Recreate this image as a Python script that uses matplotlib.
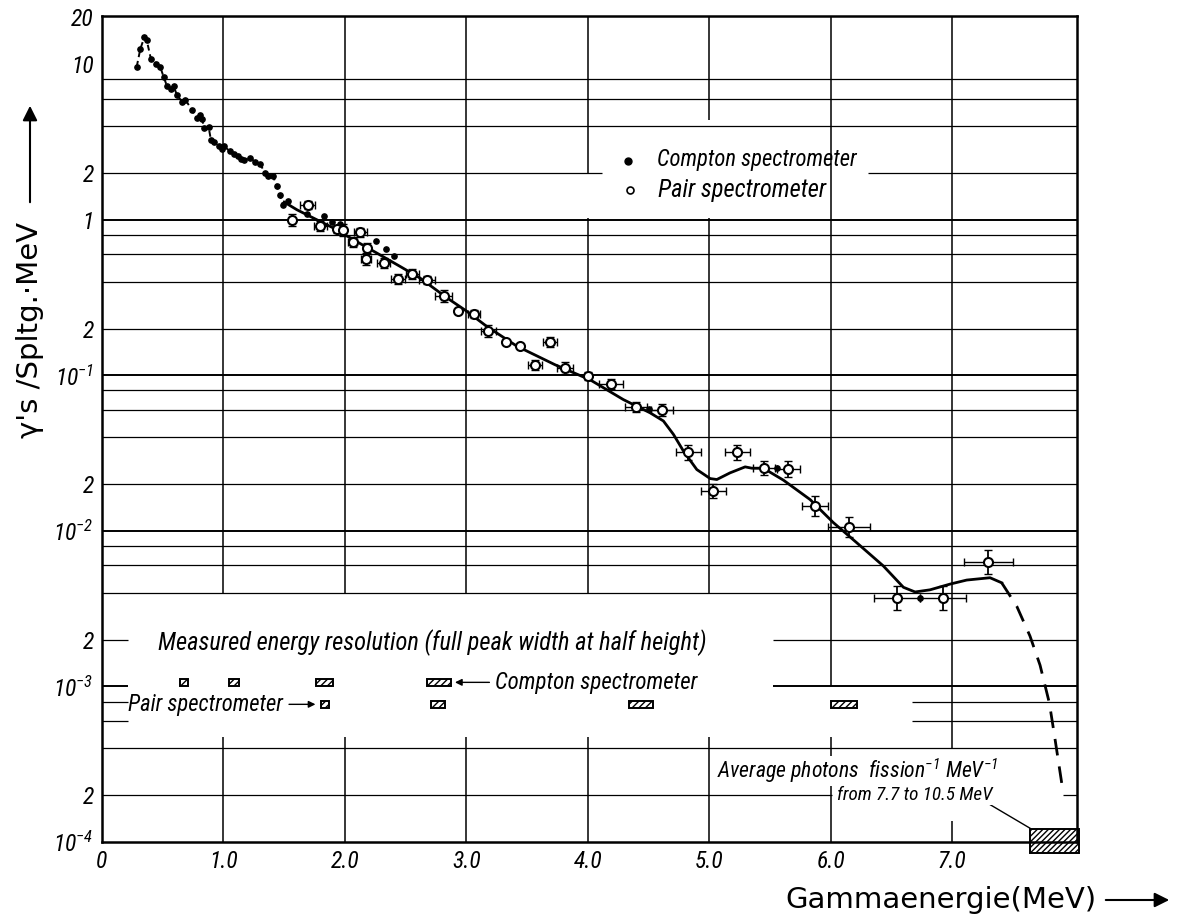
import matplotlib
matplotlib.use('Agg')
import matplotlib.pyplot as plt
import numpy as np
from matplotlib import font_manager
from matplotlib.patches import Rectangle, FancyArrowPatch

names = {f.name for f in font_manager.fontManager.ttflist}
NARROW = 'DejaVu Sans'
for cand in ['Liberation Sans Narrow', 'Roboto Condensed', 'Open Sans Condensed', 'Liberation Sans']:
    if cand in names:
        NARROW = cand
        break
plt.rcParams['mathtext.fontset'] = 'custom'
plt.rcParams['mathtext.rm'] = NARROW + ':italic'
plt.rcParams['mathtext.it'] = NARROW + ':italic'
plt.rcParams['mathtext.sf'] = NARROW + ':italic'
plt.rcParams['hatch.linewidth'] = 1.0

# ---------------- data ----------------
compton_e = [0.286, 0.315, 0.348, 0.368, 0.403, 0.447, 0.480, 0.507, 0.535, 0.568,
             0.590, 0.617, 0.658, 0.686, 0.741, 0.782, 0.804, 0.823, 0.842, 0.877,
             0.897, 0.919, 0.960, 0.987, 1.006, 1.056, 1.083, 1.116, 1.144, 1.171,
             1.221, 1.262, 1.298, 1.344, 1.366, 1.407, 1.440, 1.462, 1.490]
compton_y = [9.65, 12.5, 14.9, 14.3, 10.8, 10.1, 9.6, 8.3, 7.25, 6.9,
             7.2, 6.35, 5.75, 5.9, 5.1, 4.5, 4.72, 4.47, 3.88, 3.97,
             3.26, 3.18, 2.96, 2.86, 2.96, 2.75, 2.66, 2.56, 2.46, 2.43,
             2.49, 2.35, 2.30, 2.00, 1.90, 1.92, 1.64, 1.45, 1.25]
compton2_e = [1.528, 1.687, 1.824, 1.893, 1.961, 2.257, 2.340, 2.406, 4.50, 5.556, 6.735]
compton2_y = [1.33, 1.09, 1.06, 0.97, 0.94, 0.726, 0.648, 0.581, 0.0608, 0.0252, 0.00368]

pair_e = [1.564, 1.692, 1.797, 1.934, 1.984, 2.126, 2.063, 2.181, 2.173, 2.318,
          2.436, 2.556, 2.675, 2.812, 2.935, 3.064, 3.182, 3.325, 3.443, 3.566,
          3.690, 3.813, 4.000, 4.192, 4.395, 4.614, 4.828, 5.034, 5.231, 5.451,
          5.651, 5.871, 6.150, 6.543, 6.921, 7.297]
pair_y = [1.00, 1.25, 0.906, 0.87, 0.862, 0.829, 0.715, 0.658, 0.562, 0.527,
          0.418, 0.450, 0.412, 0.322, 0.258, 0.249, 0.192, 0.1646, 0.1536, 0.117,
          0.1638, 0.1115, 0.0995, 0.088, 0.0623, 0.0602, 0.032, 0.018, 0.032, 0.0254,
          0.0251, 0.0144, 0.0106, 0.00368, 0.00372, 0.0063]
pair_xerr = [0.0, 0.062, 0.055, 0.0, 0.0, 0.055, 0.04, 0.0, 0.04, 0.055,
             0.058, 0.055, 0.064, 0.068, 0.0, 0.05, 0.058, 0.0, 0.0, 0.055,
             0.058, 0.066, 0.0, 0.10, 0.09, 0.09, 0.10, 0.10, 0.105, 0.09,
             0.095, 0.107, 0.17, 0.19, 0.19, 0.20]
pair_yrel = [0.09, 0.06, 0.077, 0.06, 0.093, 0.07, 0.077, 0.077, 0.093, 0.077,
             0.077, 0.077, 0.06, 0.093, 0.0, 0.06, 0.093, 0.0, 0.0, 0.077,
             0.077, 0.093, 0.06, 0.077, 0.077, 0.093, 0.12, 0.11, 0.116, 0.11,
             0.126, 0.16, 0.16, 0.194, 0.194, 0.194]

curve_e = [1.50, 1.605, 1.742, 1.906, 2.071, 2.263, 2.455, 2.619, 2.84, 3.004,
           3.169, 3.416, 3.73, 4.02, 4.293, 4.513, 4.622, 4.705, 4.787, 4.897,
           5.007, 5.062, 5.17, 5.295, 5.35, 5.445, 5.61, 5.83, 6.02, 6.214,
           6.433, 6.598, 6.694, 6.817, 6.982, 7.119, 7.311, 7.407]
curve_y = [1.30, 1.16, 1.025, 0.885, 0.744, 0.611, 0.501, 0.422, 0.315, 0.258,
           0.206, 0.154, 0.117, 0.0935, 0.0698, 0.0574, 0.0509, 0.0417, 0.0326, 0.0248,
           0.0217, 0.0214, 0.0236, 0.0258, 0.0253, 0.0253, 0.0212, 0.0159, 0.01133, 0.00839,
           0.00595, 0.00434, 0.00405, 0.00418, 0.00455, 0.00483, 0.0050, 0.00464]
extrap_e = [7.407, 7.531, 7.64, 7.723, 7.80, 7.846, 7.914]
extrap_y = [0.00464, 0.00328, 0.00211, 0.00137, 0.00078, 0.00046, 0.000206]

res_compton_e = [0.675, 1.087, 1.835, 2.774]
res_compton_w = [0.06, 0.09, 0.14, 0.20]
res_pair_e = [1.836, 2.77, 4.44, 6.11]
res_pair_w = [0.07, 0.115, 0.20, 0.22]

avg_e = [7.64, 8.04]
avg_y = [8.5e-5, 1.22e-4]

x_ticks = [0, 1, 2, 3, 4, 5, 6, 7]
x_ticklabels = ['0', '1.0', '2.0', '3.0', '4.0', '5.0', '6.0', '7.0']
y_ticks = [1e-4, 2e-4, 1e-3, 2e-3, 1e-2, 2e-2, 0.1, 0.2, 1, 2, 10, 20]
y_ticklabels = ['$10^{-4}$', '2', '$10^{-3}$', '2', '$10^{-2}$', '2', '$10^{-1}$', '2',
                '1', '2', '10', '20']

# ---------------- layout helpers (pixel -> data) ----------------
def X(px):
    return (px - 101.7) / 121.5

def Y(py):
    return 10 ** ((220.0 - py) / 155.7)

W, H = 1177, 923
fig = plt.figure(figsize=(W / 100, H / 100), dpi=100)
ax = fig.add_axes([102 / W, 1 - 842 / H, (1077 - 102) / W, (842 - 16) / H])
ax.set_yscale('log')
ax.set_xlim(0, X(1077))
ax.set_ylim(1e-4, Y(16))
renderer = fig.canvas.get_renderer()

def fitted(px_left, px_right, y, s, **kw):
    t = ax.text(X(px_left), y, s, **kw)
    w = t.get_window_extent(renderer).width
    t.set_fontsize(t.get_fontsize() * (px_right - px_left) / w)
    return t

# ---------------- hand-drawn grid ----------------
gk = dict(color='black', zorder=1, solid_capstyle='butt')
decades = [10, 1, 0.1, 0.01, 1e-3]
levels = []
for d in [1, 0.1, 0.01, 1e-3, 1e-4]:
    for m in [1, 2, 4, 6, 8]:
        levels.append(d * m)
levels = sorted(set([round(v, 10) for v in levels if 1e-4 < v <= 10]))
xmax = X(1077)
for v in levels:
    lw = 1.4 if any(abs(v - d) / d < 1e-6 for d in decades) else 0.9
    if v >= 4e-3 - 1e-9:
        if abs(v - 2) < 1e-6:
            segs = [(0, X(602)), (X(868), xmax)]
        else:
            segs = [(0, xmax)]
    elif v > 0.9e-3:
        segs = [(0, X(128)), (X(773), xmax)]
    elif v > 5e-4:
        segs = [(0, X(128)), (X(912), xmax)]
    elif v > 3e-4:
        segs = [(0, xmax)]
    else:
        segs = [(0, X(832)), (X(1063), xmax)]
    for a, b in segs:
        ax.plot([a, b], [v, v], lw=lw, **gk)

ytop = Y(16)
for xv in [1, 2, 3, 4, 5, 6, 7]:
    if xv <= 5:
        segs = [(4e-3, ytop), (Y(738), 1e-4)]
    elif xv == 6:
        segs = [(1e-3, ytop), (Y(738), 1e-4)]
    else:
        segs = [(Y(750), ytop), (Y(822), 1e-4)]
    if xv == 4:
        segs = [(4e-3, Y(218)), (Y(174), ytop), (Y(738), 1e-4)]
    if xv == 5:
        segs = [(4e-3, Y(218)), (Y(120), ytop), (Y(738), 1e-4)]
    for a, b in segs:
        ax.plot([xv, xv], [a, b], lw=1.1, **gk)

# ---------------- data marks ----------------
ax.plot(compton_e, compton_y, color='black', lw=1.4, ls=(0, (3, 2)), zorder=3)
ax.plot(compton_e, compton_y, 'o', color='black', ms=3.8, zorder=4)
ax.plot(compton2_e, compton2_y, 'o', color='black', ms=3.8, zorder=4)

ax.plot(curve_e, curve_y, color='black', lw=2.0, zorder=3, solid_joinstyle='round')
ax.plot(extrap_e, extrap_y, color='black', lw=2.0, ls=(0, (6, 4)), zorder=3)

pe = np.array(pair_e); py = np.array(pair_y)
pxe = np.array(pair_xerr); pyr = np.array(pair_yrel)
m = pxe > 0
ax.errorbar(pe[m], py[m], xerr=pxe[m], fmt='none', ecolor='black', elinewidth=1.0,
            capsize=3, capthick=1.0, zorder=4)
m2 = pyr > 0
ax.errorbar(pe[m2], py[m2], yerr=[py[m2] - py[m2] / (1 + pyr[m2]), py[m2] * pyr[m2]],
            fmt='none', ecolor='black', elinewidth=1.3, capsize=3, capthick=1.0, zorder=4)
ax.plot(pe, py, 'o', mfc='white', mec='black', mew=1.5, ms=6.5, zorder=5)

# legend (hand-placed like original)
ax.plot([X(628)], [Y(161)], 'o', color='black', ms=5, zorder=5)
ax.plot([X(630)], [Y(190)], 'o', mfc='white', mec='black', mew=1.2, ms=5, zorder=5)
tk = dict(family=[NARROW, 'DejaVu Sans'], style='italic', fontsize=16, color='black', zorder=6)
fitted(657, 857, Y(160), 'Compton spectrometer', va='center', ha='left', **tk)
fitted(658, 827, Y(190), 'Pair spectrometer', va='center', ha='left', **tk)

# energy resolution bars
fitted(158, 709, Y(643), 'Measured energy resolution (full peak width at half height)',
       va='center', ha='left', **tk)
row_c, row_p = Y(683), Y(705)
hh = 10 ** (3.2 / 155.7)
for e, w in zip(res_compton_e, res_compton_w):
    ax.add_patch(Rectangle((e - w / 2, row_c / hh), w, row_c * hh - row_c / hh,
                           fill=False, hatch='/////', lw=1.4, ec='black', zorder=4))
for e, w in zip(res_pair_e, res_pair_w):
    ax.add_patch(Rectangle((e - w / 2, row_p / hh), w, row_p * hh - row_p / hh,
                           fill=False, hatch='/////', lw=1.4, ec='black', zorder=4))
ax.annotate('', xy=(X(452), row_c), xytext=(X(492), row_c),
            arrowprops=dict(arrowstyle='-|>', color='black', lw=1.0, mutation_scale=10), zorder=5)
fitted(495, 698, row_c, 'Compton spectrometer', va='center', ha='left', **tk)
fitted(128, 284, row_p, 'Pair spectrometer', va='center', ha='left', **tk)
ax.annotate('', xy=(X(318), row_p), xytext=(X(286), row_p),
            arrowprops=dict(arrowstyle='-|>', color='black', lw=1.0, mutation_scale=10), zorder=5)

# average photons box
ax.add_patch(Rectangle((avg_e[0], avg_y[0]), avg_e[1] - avg_e[0], avg_y[1] - avg_y[0],
                       facecolor='white', hatch='//////', lw=1.4, ec='black', zorder=4,
                       clip_on=False))
t_avg = fitted(717, 998, Y(779), 'Average photons  fission$^{-1}$ MeV$^{-1}$', va='baseline',
               ha='left', bbox=dict(facecolor='white', edgecolor='none', pad=0.5), **tk)
tk2 = dict(tk)
tk2['fontsize'] = t_avg.get_fontsize() * 0.88
ax.text(X(837), Y(796), 'from 7.7 to 10.5 MeV', va='center', ha='left',
        bbox=dict(facecolor='white', edgecolor='none', pad=0.5), **tk2)
ax.plot([X(986), X(1030)], [Y(803), Y(829)], color='black', lw=1.0, zorder=5)

# ---------------- axes styling ----------------
for s in ax.spines.values():
    s.set_linewidth(1.8)
    s.set_zorder(6)
ax.set_xticks(x_ticks)
ax.set_xticklabels(x_ticklabels, family=[NARROW, 'DejaVu Sans'], style='italic', fontsize=17)
ax.set_yticks(y_ticks)
ax.set_yticklabels(y_ticklabels, family=[NARROW, 'DejaVu Sans'], style='italic', fontsize=17)
ax.minorticks_off()
ax.tick_params(length=0, pad=6)

# axis titles with arrows
fig.text(785 / W, 1 - 900 / H, 'Gammaenergie(MeV)', fontsize=21, family='DejaVu Sans',
         va='center', ha='left')
fig.patches.append(FancyArrowPatch(
    (1103 / W, 1 - 900 / H), (1172 / W, 1 - 900 / H), transform=fig.transFigure,
    arrowstyle='-|>', mutation_scale=22, lw=1.5, color='black'))
fig.text(30 / W, 1 - 330 / H, "γ's /Spltg.·MeV", fontsize=21, family='DejaVu Sans',
         va='center', ha='center', rotation=90)
fig.patches.append(FancyArrowPatch(
    (30 / W, 1 - 205 / H), (30 / W, 1 - 103 / H), transform=fig.transFigure,
    arrowstyle='-|>', mutation_scale=22, lw=1.5, color='black'))

fig.savefig('out.png', dpi=100)
